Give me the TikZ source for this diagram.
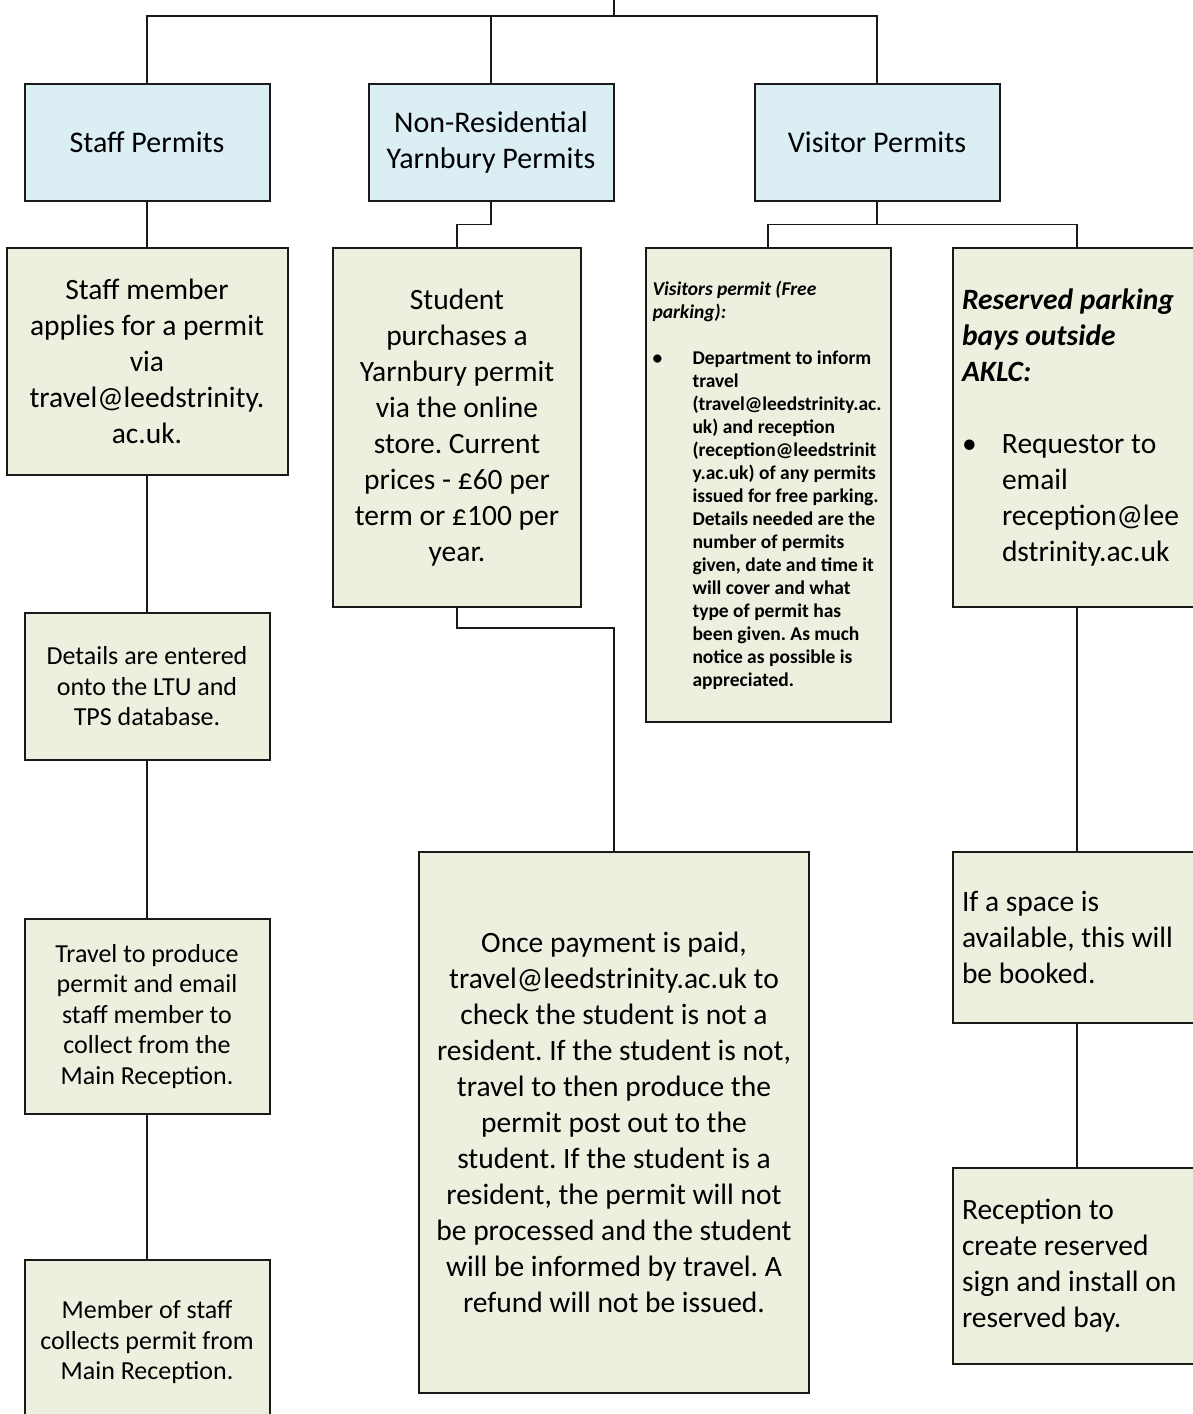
\documentclass[tikz,border=0pt]{standalone}
\usepackage{fontspec}
\setmainfont{Carlito}
\usetikzlibrary{calc}
\definecolor{bluefill}{RGB}{219,238,244}
\definecolor{greenfill}{RGB}{235,241,222}
\definecolor{edge}{RGB}{25,25,25}
\newcommand\mybul{\makebox[40pt][l]{\textbullet}}
\newcommand\myind{\hspace*{40pt}}
\newcommand\natsp{\spaceskip=0pt\relax\xspaceskip=0pt\relax}
\frenchspacing
\begin{document}
\begin{tikzpicture}[x=1pt,y=-1pt,
  basebox/.style={draw=edge,line width=2pt,inner sep=0pt,outer sep=0pt},
  bbox/.style={basebox,fill=bluefill,align=center,font=\fontsize{30}{36}\selectfont},
  gbox/.style={basebox,fill=greenfill,align=center},
  big/.style={font=\fontsize{29.5}{36}\selectfont},
  small/.style={font=\fontsize{26}{30.5}\selectfont},
  conn/.style={draw=edge,line width=1.9pt}]
\useasboundingbox (0,0) rectangle (1192,1414);

% top level
\node[bbox,minimum width=245pt,minimum height=117pt] (staffP) at (147,142.5) {Staff Permits};
\node[bbox,minimum width=245pt,minimum height=117pt] (nonresP) at (491,142.5) {Non-Residential\\Yarnbury Permits};
\node[bbox,minimum width=245pt,minimum height=117pt] (visP) at (877,142.5) {Visitor Permits};

% second row
\node[gbox,big,minimum width=281pt,minimum height=227pt] (staffM) at (147,361.5)
  {Staff member\\applies for a permit\\via\\travel@leedstrinity.\\ac.uk.};
\node[gbox,big,minimum width=248pt,minimum height=359pt] (stud) at (457,427.5)
  {Student\\purchases a\\Yarnbury permit\\via the online\\store. Current\\prices - £60 per\\term or £100 per\\year.};
\node[gbox,minimum width=245pt,minimum height=474pt,align=left,text width=231pt,
      font=\fontsize{19.5}{23}\selectfont\bfseries] (visB) at (768,485)
  {\natsp\mbox{\itshape Visitors permit (Free}\\
   \mbox{\itshape parking):}\\
   \mbox{}\\
   \mybul\mbox{Department to inform}\\
   \myind\mbox{travel}\\
   \myind\mbox{(travel@leedstrinity.ac.}\\
   \myind\mbox{uk) and reception}\\
   \myind\mbox{(reception@leedstrinit}\\
   \myind\mbox{y.ac.uk) of any permits}\\
   \myind\mbox{issued for free parking.}\\
   \myind\mbox{Details needed are the}\\
   \myind\mbox{number of permits}\\
   \myind\mbox{given, date and time it}\\
   \myind\mbox{will cover and what}\\
   \myind\mbox{type of permit has}\\
   \myind\mbox{been given. As much}\\
   \myind\mbox{notice as possible is}\\
   \myind\mbox{appreciated.}};
\node[gbox,big,minimum width=248pt,minimum height=359pt,align=left,text width=230pt] (resB) at (1077,427.5)
  {\natsp\mbox{\bfseries\itshape Reserved parking}\\
   \mbox{\bfseries\itshape bays outside}\\
   \mbox{\bfseries\itshape AKLC:}\\
   \mbox{}\\
   \mybul\mbox{Requestor to}\\
   \myind\mbox{email}\\
   \myind\mbox{reception@lee}\\
   \myind\mbox{dstrinity.ac.uk}};

% staff chain
\node[gbox,small,minimum width=245pt,minimum height=147pt] (details) at (147,686.5)
  {Details are entered\\onto the LTU and\\TPS database.};
\node[gbox,small,minimum width=245pt,minimum height=195pt] (travelB) at (147,1016.5)
  {Travel to produce\\permit and email\\staff member to\\collect from the\\Main Reception.};
\node[gbox,small,minimum width=245pt,minimum height=165pt] (member) at (147,1342.5)
  {Member of staff\\collects permit from\\Main Reception.};

% payment
\node[gbox,big,minimum width=390pt,minimum height=541pt] (pay) at (614,1122.5)
  {Once payment is paid,\\travel@leedstrinity.ac.uk to\\check the student is not a\\resident. If the student is not,\\travel to then produce the\\permit post out to the\\student. If the student is a\\resident, the permit will not\\be processed and the student\\will be informed by travel. A\\refund will not be issued.};

% reserved chain
\node[gbox,big,minimum width=248pt,minimum height=171pt,align=left,text width=230pt] (space) at (1077,937.5)
  {\natsp\mbox{If a space is}\\\mbox{available, this will}\\\mbox{be booked.}};
\node[gbox,big,minimum width=248pt,minimum height=196pt,align=left,text width=230pt] (recep) at (1077,1266)
  {\natsp\mbox{Reception to}\\\mbox{create reserved}\\\mbox{sign and install on}\\\mbox{reserved bay.}};

% connectors
\coordinate (root) at (614,0);
\coordinate (bus) at (614,16);
\draw[conn] (root) -- (bus);
\draw[conn] (staffP.north) |- (bus) -| (visP.north);
\draw[conn] (nonresP.north) -- (nonresP.north |- bus);
\draw[conn] (staffP.south) -- (staffM.north);
\draw[conn] (nonresP.south) |- ($(nonresP.south)!.5!(stud.north)$) -| (stud.north);
\draw[conn] (visP.south) -- ($(visP.south)!.5!(visP.south |- resB.north)$);
\draw[conn] (visB.north) |- ($(visP.south)!.5!(resB.north)$) -| (resB.north);
\draw[conn] (staffM.south) -- (details.north);
\draw[conn] (details.south) -- (travelB.north);
\draw[conn] (travelB.south) -- (member.north);
\draw[conn] (stud.south) -- ++(0,21) -| (pay.north);
\draw[conn] (resB.south) -- (space.north);
\draw[conn] (space.south) -- (recep.north);
\end{tikzpicture}
\end{document}
